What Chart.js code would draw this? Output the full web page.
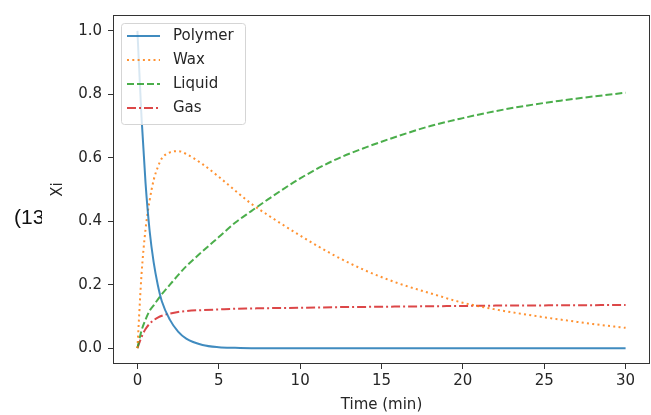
<!DOCTYPE html>
<html>
<head>
<meta charset="utf-8">
<script src="https://cdn.jsdelivr.net/npm/chart.js@4.4.1/dist/chart.umd.min.js"></script>
<style>
    html, body { margin: 0; padding: 0; background: #fff; }
    #wrap { position: relative; width: 651px; height: 415px; }
    #side {
        position: absolute; left: 0; top: 205px; width: 42px; padding-left: 14px;
        box-sizing: border-box; overflow: hidden; white-space: nowrap;
        font: 21px "Liberation Sans", sans-serif; color: #111;
    }
</style>
</head>
<body>
<div id="wrap">
    <div id="side">(13</div>
    <canvas id="xiChart"></canvas>
</div>
<script>
// Time points (min) and fractions
const times   = [0, 0.25, 0.5, 0.75, 1, 1.25, 1.5, 2, 2.5, 3, 4, 5, 6, 7, 8, 10, 12, 14, 16, 18, 20, 22, 24, 26, 28, 30];
const polymer = [1, 0.73, 0.52, 0.37, 0.27, 0.2, 0.148, 0.089, 0.052, 0.03, 0.01, 0.003, 0.001, 0, 0, 0, 0, 0, 0, 0, 0, 0, 0, 0, 0, 0];
const wax     = [0, 0.23, 0.375, 0.465, 0.53, 0.57, 0.598, 0.617, 0.621, 0.612, 0.58, 0.54, 0.497, 0.455, 0.42, 0.355, 0.295, 0.245, 0.205, 0.173, 0.143, 0.122, 0.105, 0.09, 0.076, 0.064];
const liquid  = [0, 0.055, 0.09, 0.118, 0.135, 0.153, 0.17, 0.2, 0.23, 0.258, 0.305, 0.35, 0.395, 0.432, 0.468, 0.535, 0.59, 0.632, 0.668, 0.70, 0.725, 0.747, 0.765, 0.78, 0.793, 0.805];
const gas     = [0, 0.035, 0.06, 0.077, 0.088, 0.096, 0.102, 0.109, 0.114, 0.117, 0.12, 0.122, 0.124, 0.125, 0.126, 0.127, 0.129, 0.13, 0.131, 0.132, 0.133, 0.134, 0.1345, 0.135, 0.1355, 0.136];
const seriesNames = ['Polymer', 'Wax', 'Liquid', 'Gas'];
const xTicks = [0, 5, 10, 15, 20, 25, 30];
const yTicks = [0, 0.2, 0.4, 0.6, 0.8, 1.0];

const colors = {
    blue: 'rgba(31,119,180,0.85)',
    orange: 'rgba(255,127,14,0.85)',
    green: 'rgba(44,160,44,0.85)',
    red: 'rgba(214,39,40,0.85)'
};
const textColor = '#262626';
const font = { family: 'DejaVu Sans', size: 15 };

function toPoints(values) {
    return times.map((t, i) => ({ x: t, y: values[i] }));
}

// Frame + legend drawn inside the plot, matplotlib style
const framePlugin = {
    id: 'frameAndLegend',
    afterDatasetsDraw(chart) {
        const ctx = chart.ctx;
        const a = chart.chartArea;
        ctx.save();
        ctx.strokeStyle = '#333';
        ctx.lineWidth = 1;
        ctx.setLineDash([]);
        ctx.strokeRect(a.left + 0.5, a.top + 0.5, a.right - a.left - 1, a.bottom - a.top - 1);

        // legend box
        const bx = a.left + 8, by = a.top + 8, bw = 124, bh = 101;
        ctx.beginPath();
        ctx.roundRect(bx + 0.5, by + 0.5, bw, bh, 3);
        ctx.fillStyle = 'rgba(255,255,255,0.8)';
        ctx.fill();
        ctx.strokeStyle = '#d5d5d5';
        ctx.stroke();

        ctx.font = '15px "DejaVu Sans"';
        ctx.textBaseline = 'middle';
        chart.data.datasets.forEach((ds, i) => {
            const y = by + 13 + i * 24;
            ctx.beginPath();
            ctx.strokeStyle = ds.borderColor;
            ctx.lineWidth = ds.borderWidth;
            ctx.setLineDash(ds.borderDash || []);
            ctx.moveTo(bx + 6, y);
            ctx.lineTo(bx + 39, y);
            ctx.stroke();
            ctx.setLineDash([]);
            ctx.fillStyle = textColor;
            ctx.fillText(ds.label, bx + 52, y);
        });
        ctx.restore();
    }
};

const xiCtx = document.getElementById('xiChart').getContext('2d');
new Chart(xiCtx, {
    type: 'line',
    data: {
        datasets: [
            { label: seriesNames[0], data: toPoints(polymer), borderColor: colors.blue, borderWidth: 2 },
            { label: seriesNames[1], data: toPoints(wax), borderColor: colors.orange, borderWidth: 2, borderDash: [2, 3.3] },
            { label: seriesNames[2], data: toPoints(liquid), borderColor: colors.green, borderWidth: 2, borderDash: [7, 3] },
            { label: seriesNames[3], data: toPoints(gas), borderColor: colors.red, borderWidth: 2, borderDash: [9, 3, 2, 3] }
        ]
    },
    options: {
        responsive: true,
        maintainAspectRatio: false,
        animation: false,
        devicePixelRatio: 1,
        layout: { padding: { left: 45, top: 14, right: 1, bottom: 0 } },
        elements: {
            point: { radius: 0 },
            line: { cubicInterpolationMode: 'monotone', fill: false }
        },
        plugins: {
            legend: { display: false },
            tooltip: { enabled: false }
        },
        scales: {
            x: {
                type: 'linear',
                min: -1.5,
                max: 31.5,
                afterFit: s => { s.height = 51; },
                afterBuildTicks: s => { s.ticks = xTicks.map(v => ({ value: v })); },
                ticks: { font: font, color: textColor, padding: 3, callback: v => String(v) },
                grid: { drawOnChartArea: false, drawTicks: true, tickLength: 5, color: '#333' },
                border: { display: false },
                title: { display: true, text: 'Time (min)', font: font, color: textColor, padding: { top: 0, bottom: 1 } }
            },
            y: {
                min: -0.05,
                max: 1.05,
                afterFit: s => { s.width = 68; },
                afterBuildTicks: s => { s.ticks = yTicks.map(v => ({ value: v })); },
                ticks: { font: font, color: textColor, padding: 6, callback: v => v.toFixed(1) },
                grid: { drawOnChartArea: false, drawTicks: true, tickLength: 5, color: '#333' },
                border: { display: false },
                title: { display: true, text: 'Xi', font: font, color: textColor, padding: { top: 4, bottom: 0 } }
            }
        }
    },
    plugins: [framePlugin]
});
</script>
</body>
</html>
